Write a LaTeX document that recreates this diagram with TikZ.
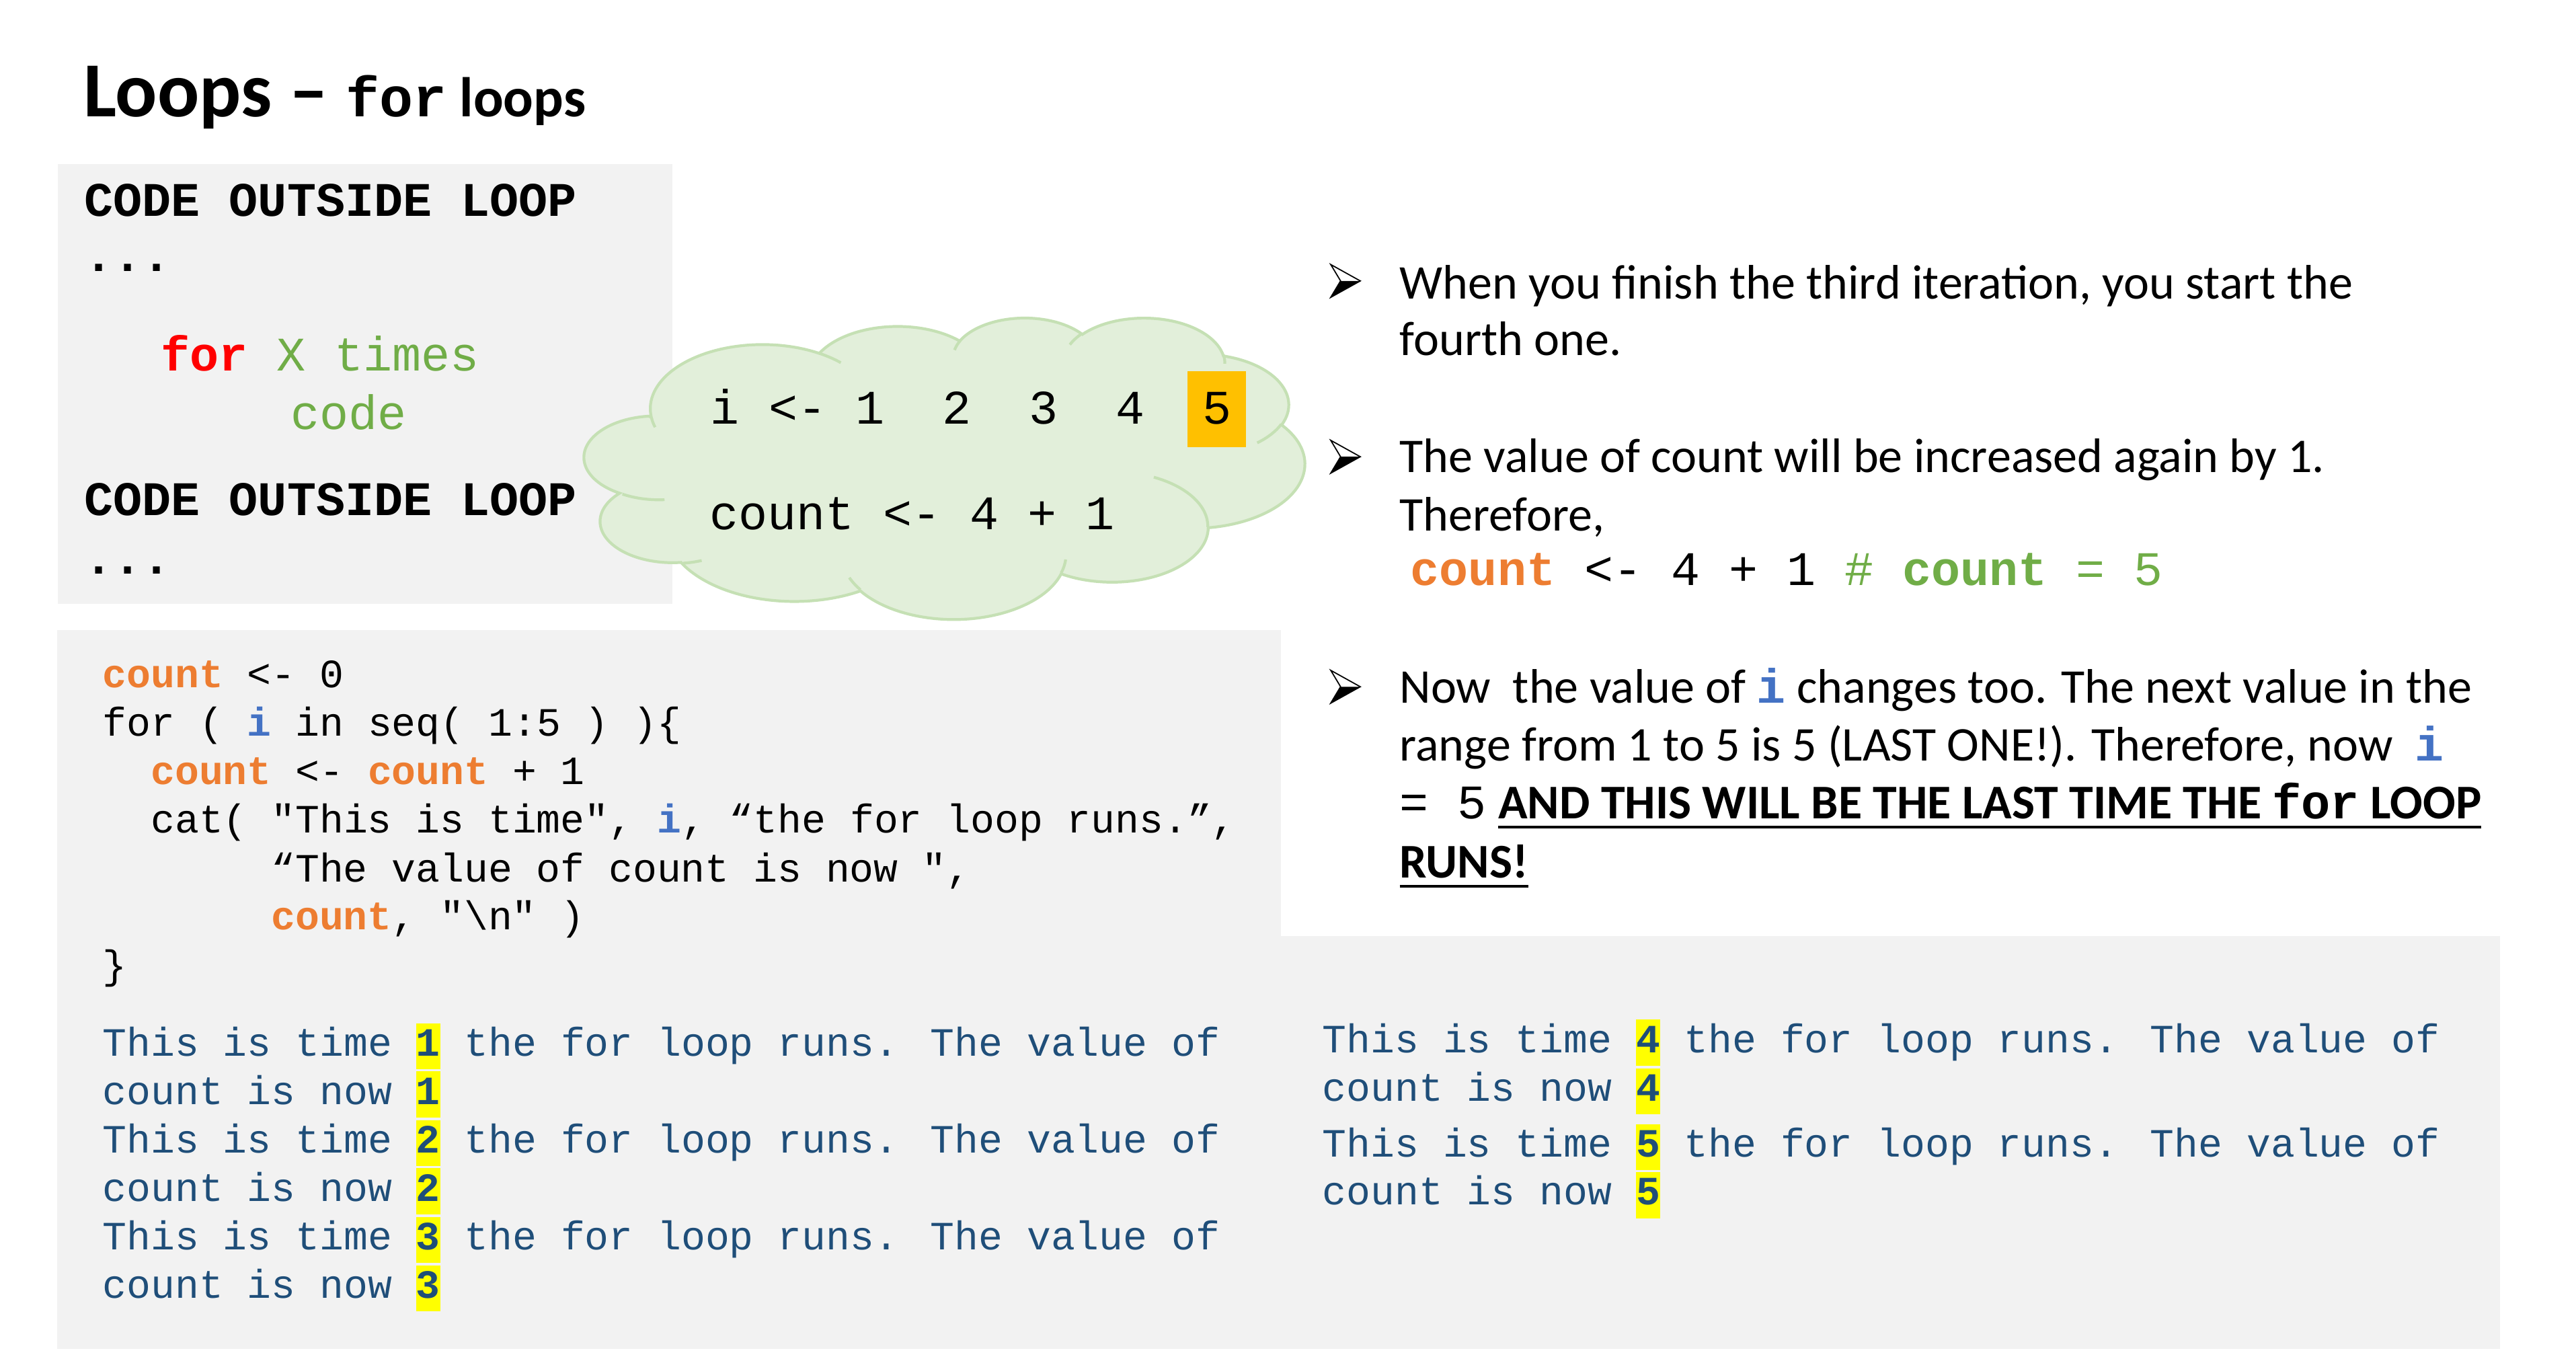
\documentclass[tikz,border=0pt]{standalone}
\usepackage{fontspec}
\usetikzlibrary{calc}
\setmainfont{Carlito}
\newfontfamily\cour{Liberation Mono}[Ligatures=TeXOff]
\definecolor{boxgray}{HTML}{F2F2F2}
\definecolor{cloudfill}{HTML}{E2EFDA}
\definecolor{cloudline}{HTML}{C5E0B4}
\definecolor{korange}{HTML}{ED7D31}
\definecolor{kgreen}{HTML}{70AD47}
\definecolor{kblue}{HTML}{4472C4}
\definecolor{outblue}{HTML}{1F4E79}
\definecolor{amber}{HTML}{FFC000}
\definecolor{hlyellow}{HTML}{FFFF00}

\newcommand\sztitle{\fontsize{33pt}{40pt}\selectfont}
\newcommand\szsub{\fontsize{23.7pt}{28pt}\selectfont}
\newcommand\szbig{\fontsize{20.4pt}{24pt}\selectfont}
\newcommand\szbody{\fontsize{20.5pt}{24pt}\selectfont}
\newcommand\szcode{\fontsize{17pt}{20pt}\selectfont}
\newcommand\kw[1]{{\color{korange}\bfseries #1}}
\newcommand\iv{{\color{kblue}\bfseries i}}
\newcommand\hlnum[1]{\setbox0\hbox{\bfseries #1}\rlap{\color{hlyellow}\rule[-0.33em]{\wd0}{1.145em}}\textbf{#1}}
% elliptical arc given by radii, start angle and sweep measured as directions from the centre
\newcommand\carc[4]{arc[x radius=#1, y radius=#2,
  start angle={atan2((#1)*sin(#3),(#2)*cos(#3))},
  delta angle={mod(atan2((#1)*sin((#3)+(#4)),(#2)*cos((#3)+(#4)))-atan2((#1)*sin(#3),(#2)*cos(#3))+720,360)}]}

\begin{document}
\begin{tikzpicture}[x=0.024432cm, y=-0.024432cm,
  txt/.style={anchor=base west, inner sep=0pt, outer sep=0pt},
  arrowbullet/.pic={
    \fill[black] (0,10) -- (18,0) -- (6,0) -- cycle;
    \draw[black, line width=0.5pt, line join=miter] (0,-10) -- (18,0) -- (0,10) -- (6,0) -- cycle;
  }]
\useasboundingbox (0,0) rectangle (1568,827);

% grey panels
\fill[boxgray] (35,99.7) rectangle (409.2,367.5);
\fill[boxgray] (34.7,383.4) rectangle (779.9,821.2);
\fill[boxgray] (779.9,569.7) rectangle (1521.7,821.2);

% title
\node[txt] (title) at (51,70.9) {\sztitle\bfseries Loops – \szsub{\cour for} loops};

% schematic of a loop
\node[txt] (c1) at (51.5,131.6) {\cour\szbig\bfseries CODE OUTSIDE LOOP};
\node[txt] (c2) at (51.5,165.2) {\cour\szbig\bfseries ...};
\node[txt] (c3) at (98,225.8) {\cour\szbig{\color{red}\bfseries for} {\color{kgreen}X times}};
\node[txt] (c4) at (177,261.3) {\cour\szbig\color{kgreen}code};
\node[txt] (c5) at (51.5,313.9) {\cour\szbig\bfseries CODE OUTSIDE LOOP};
\node[txt] (c6) at (51.5,349.5) {\cour\szbig\bfseries ...};

% thought cloud
\begin{scope}[shift={(357,193)}, x=0.0024771cm, y=-0.0010406cm]
  \draw[cloudline, fill=cloudfill, line width=1.2pt]
    (390,1437) \carc{675.3}{919}{-190.4875}{123.7805}
    \carc{533.3}{726.7}{-144.1024}{89.9452}
    \carc{436.5}{594.5}{-145.8079}{99.7230}
    \carc{485.7}{659.5}{-130.9861}{117.2417}
    \carc{533.3}{727.3}{-78.7089}{109.0269}
    \carc{677.5}{922}{-46.2673}{130.2690}
    \carc{578.5}{786.7}{0.6250}{114.0333}
    \carc{675.2}{921.5}{22.4516}{115.1726}
    \carc{772}{1054.3}{66.2426}{77.8209}
    \carc{436}{591.8}{-274.9421}{146.7356}
    \carc{434.5}{594.5}{-246.8285}{152.5189}
    -- cycle;
  \draw[cloudline, line width=1.2pt]
    (469.3,2617.7) \carc{434.5}{594.5}{86.7420}{26.4295}
    (692.8,3489.9) \carc{436}{591.8}{73.6105}{11.4475}
    (1647.8,3909) \carc{675.2}{921.5}{137.6242}{14.0811}
    (2882.7,3475.1) \carc{675.2}{921.5}{6.4533}{15.9984}
    (3412.9,2295.4) \carc{578.5}{786.7}{-70.2924}{70.9174}
    (4179.8,1535.4) \carc{533.3}{727.3}{30.3180}{27.7515}
    (3832.4,542.6) \carc{485.7}{659.5}{-13.7443}{14.8589}
    (2907.8,395.2) \carc{485.7}{659.5}{-149.1815}{18.1954}
    (2214.1,472) \carc{436.5}{594.5}{-163.4943}{17.6864}
    (1400,519.2) \carc{675.3}{919}{-66.7070}{12.3194}
    (412.7,1578.9) \carc{675.3}{919}{157.6544}{11.8582};
\end{scope}
\fill[amber] (722.9,226.1) rectangle (758.5,272.2);
\node[txt] (iseq) at (432.6,257.9) {\cour\szbig i <- 1\ \ 2\ \ 3\ \ 4\ \ 5};
\node[txt] (cnt) at (432,322.4) {\cour\szbig count <- 4 + 1};

% explanation bullets
\pic at (810,171) {arrowbullet};
\pic at (810,278) {arrowbullet};
\pic at (810,418) {arrowbullet};
\node[txt] (b1a) at (852,181.8) {\szbody When you finish the third iteration, you start the};
\node[txt] (b1b) at (852,216.5) {\szbody fourth one.};
\node[txt] (b2a) at (852,287.7) {\szbody The value of count will be increased again by 1.};
\node[txt] (b2b) at (852,323) {\szbody Therefore,};
\node[txt] (b2c) at (852,356.4) {\szbody\ {\cour\szbig\kw{count} <- 4 + 1 {\color{kgreen}\# \textbf{count} = 5}}};
\node[txt] (b3a) at (852,427.8) {\szbody Now~ the value of {\cour\szbig\iv} changes too. The next value in the};
\node[txt] (b3b) at (852,463) {\szbody range from 1 to 5 is 5 (LAST ONE!). Therefore, now~ {\cour\szbig\iv}};
\node[txt] (b3c) at (852,498.3) {\cour\szbig = 5};
\node[txt] (b3d) at (912,498.3) {\szbody\bfseries AND THIS WILL BE THE LAST TIME THE {\cour for} LOOP};
\node[txt] (b3e) at (852,534.2) {\szbody\bfseries RUNS!};
\draw[line width=1pt] ($(b3d.base west)+(0,5.2)$) -- ($(b3d.base east)+(0,5.2)$);
\draw[line width=1pt] ($(b3e.base west)+(0,5.3)$) -- ($(b3e.base east)+(0,5.3)$);

% R code
\node[txt] (l1) at (62.5,418.5) {\cour\szcode\kw{count} <- 0};
\node[txt] (l2) at (62.5,448.1) {\cour\szcode for ( \iv\ in seq( 1:5 ) )\{};
\node[txt] (l3) at (91.8,477.6) {\cour\szcode\kw{count} <- \kw{count} + 1};
\node[txt] (l4) at (91.8,507.1) {\cour\szcode cat( "This is time", \iv, “the for loop runs.”,};
\node[txt] (l5) at (165.1,536.6) {\cour\szcode “The value of count is now ",};
\node[txt] (l6) at (165.1,565.7) {\cour\szcode\kw{count}, "\textbackslash n" )};
\node[txt] (l7) at (62.5,595.7) {\cour\szcode\}};

% console output
\node[txt] (o1) at (62.5,642.7) {\cour\szcode\color{outblue}This is time \hlnum{1} the for loop runs. The value of};
\node[txt] (o2) at (62.5,672.1) {\cour\szcode\color{outblue}count is now \hlnum{1}};
\node[txt] (o3) at (62.5,701.7) {\cour\szcode\color{outblue}This is time \hlnum{2} the for loop runs. The value of};
\node[txt] (o4) at (62.5,731.0) {\cour\szcode\color{outblue}count is now \hlnum{2}};
\node[txt] (o5) at (62.5,760.6) {\cour\szcode\color{outblue}This is time \hlnum{3} the for loop runs. The value of};
\node[txt] (o6) at (62.5,790.2) {\cour\szcode\color{outblue}count is now \hlnum{3}};
\node[txt] (o7) at (805,640.6) {\cour\szcode\color{outblue}This is time \hlnum{4} the for loop runs. The value of};
\node[txt] (o8) at (805,670.2) {\cour\szcode\color{outblue}count is now \hlnum{4}};
\node[txt] (o9) at (805,704.1) {\cour\szcode\color{outblue}This is time \hlnum{5} the for loop runs. The value of};
\node[txt] (o10) at (805,733.4) {\cour\szcode\color{outblue}count is now \hlnum{5}};
\end{tikzpicture}
\end{document}
